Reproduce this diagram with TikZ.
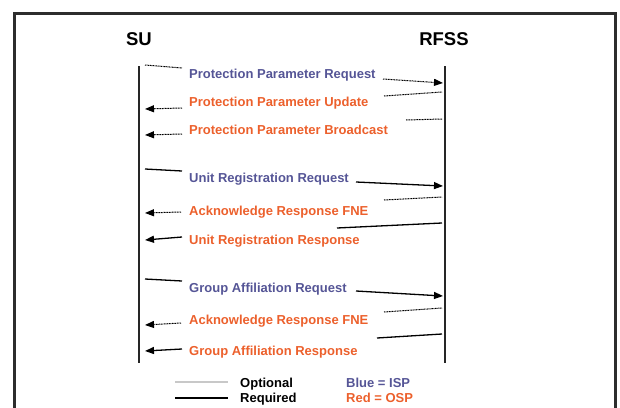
\documentclass[tikz,border=0pt]{standalone}
\usepackage{fontspec}
\setmainfont{Liberation Sans}
\usetikzlibrary{arrows.meta}
\definecolor{ispc}{RGB}{85,85,150}
\definecolor{ospc}{RGB}{236,96,44}
\definecolor{framec}{RGB}{45,45,45}
\definecolor{optc}{RGB}{200,200,200}
\begin{document}
\begin{tikzpicture}[x=1pt,y=-1pt,
  msg/.style={anchor=base west, inner sep=0pt, font=\fontsize{13}{15}\selectfont\bfseries},
  isp/.style={msg, text=ispc},
  osp/.style={msg, text=ospc},
  head/.style={inner sep=0pt, font=\fontsize{18.5}{20}\selectfont\bfseries},
  leg/.style={anchor=base west, inner sep=0pt, font=\fontsize{13}{15}\selectfont\bfseries},
  life/.style={line width=1.8pt, black!85},
  opt/.style={black, line width=1pt, dash pattern=on 1pt off 0.6pt},
  req/.style={black, line width=1.3pt},
  tip/.style={-{Triangle[length=9pt,width=7pt]}}
]
\useasboundingbox (0,0) rectangle (620,407);
% frame
\draw[framec, line width=3pt] (14,408) -- (14,13) -- (615,13) -- (615,408);
% heads
\node[head] (su) at (139,39) {SU};
\node[head] (rfss) at (444,39) {RFSS};
% lifelines
\coordinate (suT) at (139,66); \coordinate (suB) at (139,363);
\coordinate (rfT) at (445,66); \coordinate (rfB) at (445,363);
\draw[life] (suT) -- (suB);
\draw[life] (rfT) -- (rfB);

% 1 Protection Parameter Request
\node[isp] (m1) at (189,78) {Protection Parameter Request};
\coordinate (a1) at (145,65); \coordinate (b1) at (182,68);
\coordinate (c1) at (383,79); \coordinate (d1) at (443,83);
\draw[opt] (a1) -- (b1);
\draw[opt,tip] (c1) -- (d1);
% 2 Protection Parameter Update
\node[osp] (m2) at (189,106) {Protection Parameter Update};
\coordinate (a2) at (384,96); \coordinate (b2) at (442,92);
\coordinate (c2) at (182,108); \coordinate (d2) at (145,109);
\draw[opt] (a2) -- (b2);
\draw[opt,tip] (c2) -- (d2);
% 3 Protection Parameter Broadcast
\node[osp] (m3) at (189,134) {Protection Parameter Broadcast};
\coordinate (a3) at (406,120); \coordinate (b3) at (442,119);
\coordinate (c3) at (182,134); \coordinate (d3) at (145,135);
\draw[opt] (a3) -- (b3);
\draw[opt,tip] (c3) -- (d3);
% 4 Unit Registration Request
\node[isp] (m4) at (189,182) {Unit Registration Request};
\coordinate (a4) at (145,169); \coordinate (b4) at (182,171);
\coordinate (c4) at (356,182); \coordinate (d4) at (443,186);
\draw[req] (a4) -- (b4);
\draw[req,tip] (c4) -- (d4);
% 5 Acknowledge Response FNE
\node[osp] (m5) at (189,215) {Acknowledge Response FNE};
\coordinate (a5) at (384,200); \coordinate (b5) at (442,197);
\coordinate (c5) at (181,212); \coordinate (d5) at (145,213);
\draw[opt] (a5) -- (b5);
\draw[opt,tip] (c5) -- (d5);
% 6 Unit Registration Response
\node[osp] (m6) at (189,244) {Unit Registration Response};
\coordinate (a6) at (337,228); \coordinate (b6) at (442,223);
\coordinate (c6) at (182,237); \coordinate (d6) at (145,240);
\draw[req] (a6) -- (b6);
\draw[req,tip] (c6) -- (d6);
% 7 Group Affiliation Request
\node[isp] (m7) at (189,292) {Group Affiliation Request};
\coordinate (a7) at (145,279); \coordinate (b7) at (182,281);
\coordinate (c7) at (356,291); \coordinate (d7) at (443,296);
\draw[req] (a7) -- (b7);
\draw[req,tip] (c7) -- (d7);
% 8 Acknowledge Response FNE
\node[osp] (m8) at (189,324) {Acknowledge Response FNE};
\coordinate (a8) at (384,312); \coordinate (b8) at (442,308);
\coordinate (c8) at (181,323); \coordinate (d8) at (145,325);
\draw[opt] (a8) -- (b8);
\draw[opt,tip] (c8) -- (d8);
% 9 Group Affiliation Response
\node[osp] (m9) at (189,355) {Group Affiliation Response};
\coordinate (a9) at (377,338); \coordinate (b9) at (442,334);
\coordinate (c9) at (182,349); \coordinate (d9) at (145,351);
\draw[req] (a9) -- (b9);
\draw[req,tip] (c9) -- (d9);

% legend
\coordinate (lo1) at (175,382); \coordinate (lo2) at (228,382);
\coordinate (lr1) at (175,398); \coordinate (lr2) at (228,398);
\draw[optc, line width=1.5pt] (lo1) -- (lo2);
\draw[black, line width=1.2pt] (lr1) -- (lr2);
\node[leg] (lopt) at (240,387) {Optional};
\node[leg] (lreq) at (240,402) {Required};
\node[leg, text=ispc] (lisp) at (346,387) {Blue = ISP};
\node[leg, text=ospc] (losp) at (346,402) {Red = OSP};
\end{tikzpicture}
\end{document}
